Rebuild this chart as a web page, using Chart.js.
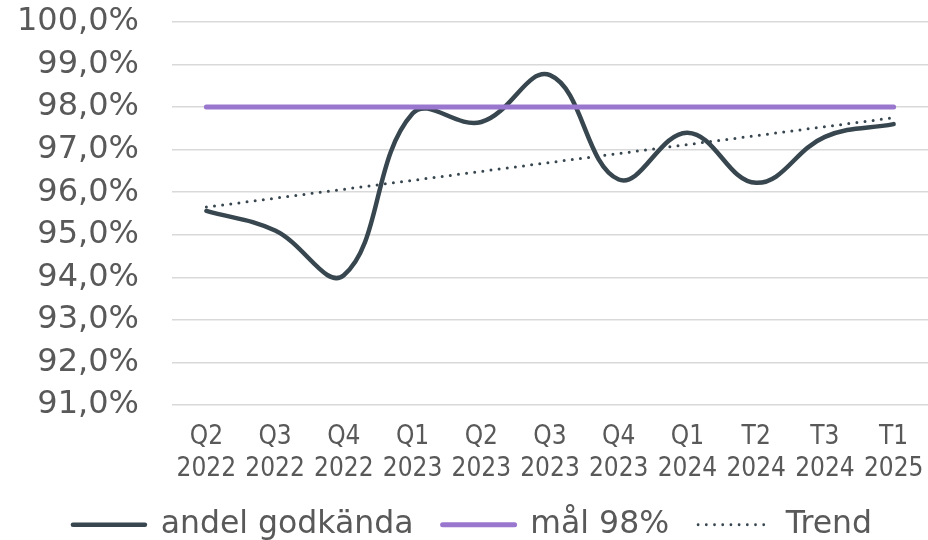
<!DOCTYPE html>
<html>
<head>
<meta charset="utf-8">
<script src="https://cdn.jsdelivr.net/npm/chart.js@4.4.1/dist/chart.umd.min.js"></script>
<style>
  html, body { margin: 0; padding: 0; background: #ffffff; }
  #wrap { width: 928px; height: 540px; position: relative; }
</style>
</head>
<body>
<div id="wrap"><canvas id="chart"></canvas></div>
<script>
// kvartal (two-line tick labels)
var quarters = ['Q2', 'Q3', 'Q4', 'Q1', 'Q2', 'Q3', 'Q4', 'Q1', 'T2', 'T3', 'T1'];
var years    = ['2022', '2022', '2022', '2023', '2023', '2023', '2023', '2024', '2024', '2024', '2025'];

// andel godkända, in percent
var andelGodkanda = [95.56, 95.1, 94.05, 97.85, 97.65, 98.75, 96.3, 97.4, 96.22, 97.3, 97.6];
// mål 98%
var malValues = [98, 98, 98, 98, 98, 98, 98, 98, 98, 98, 98];
// trend line: at its two ends
var trendValues = [95.65, null, null, null, null, null, null, null, null, null, 97.75];

var yTicks = { min: 91, max: 100, step: 1 };

var labels = quarters.map(function (q, i) { return [q, years[i]]; });

var textColor = '#595959';
var darkColor = '#37464f';
var purpleColor = '#9a77cf';

// trim the legend box so it sits closer to the axis labels
var legendFit = {
    id: 'legendFit',
    beforeInit: function (chart) {
        var orig = chart.legend.fit;
        chart.legend.fit = function () {
            orig.call(this);
            this.height = 60;
        };
    }
};

var ctx = document.getElementById('chart').getContext('2d');
var chart = new Chart(ctx, {
    type: 'line',
    data: {
        labels: labels,
        datasets: [
            {
                label: 'andel godkända',
                data: andelGodkanda,
                borderColor: darkColor,
                borderWidth: 4.5,
                borderCapStyle: 'round',
                borderJoinStyle: 'round',
                tension: 0.4,
                pointRadius: 0,
                fill: false,
                order: 3
            },
            {
                label: 'mål 98%',
                data: malValues,
                borderColor: purpleColor,
                borderWidth: 5,
                borderCapStyle: 'round',
                pointRadius: 0,
                fill: false,
                order: 2
            },
            {
                label: 'Trend',
                data: trendValues,
                borderColor: darkColor,
                borderWidth: 3,
                borderDash: [0, 8.2],
                borderCapStyle: 'round',
                spanGaps: true,
                tension: 0,
                pointRadius: 0,
                fill: false,
                order: 1
            }
        ]
    },
    plugins: [legendFit],
    options: {
        responsive: true,
        maintainAspectRatio: false,
        animation: false,
        layout: { padding: { left: 17, right: 0, top: 22, bottom: 0 } },
        plugins: {
            tooltip: { enabled: false },
            legend: {
                position: 'bottom',
                labels: {
                    color: textColor,
                    font: { family: 'DejaVu Sans', size: 31.5 },
                    usePointStyle: true,
                    pointStyleWidth: 72,
                    boxHeight: 10,
                    padding: 29,
                    generateLabels: function (c) {
                        return c.data.datasets.map(function (ds, i) {
                            return {
                                text: ds.label,
                                fillStyle: ds.borderColor,
                                strokeStyle: ds.borderColor,
                                fontColor: textColor,
                                lineWidth: i === 2 ? 2.8 : ds.borderWidth,
                                lineDash: ds.borderDash || [],
                                lineCap: 'round',
                                pointStyle: 'line',
                                hidden: false,
                                datasetIndex: i
                            };
                        });
                    }
                }
            }
        },
        scales: {
            x: {
                offset: true,
                grid: { display: false },
                border: { display: false },
                afterFit: function (axis) {
                    axis.height = 75;
                    axis.paddingLeft = 0;
                    axis.paddingRight = 0;
                },
                ticks: {
                    color: textColor,
                    font: { family: 'DejaVu Sans Condensed', size: 26 },
                    padding: 9,
                    maxRotation: 0,
                    autoSkip: false
                }
            },
            y: {
                min: yTicks.min,
                max: yTicks.max,
                grid: { color: '#d9d9d9', lineWidth: 1.5, drawTicks: false },
                border: { display: false },
                afterFit: function (axis) {
                    axis.width = 155;
                    axis.paddingTop = 0;
                    axis.paddingBottom = 0;
                },
                ticks: {
                    stepSize: yTicks.step,
                    autoSkip: false,
                    color: textColor,
                    font: { family: 'DejaVu Sans', size: 32 },
                    padding: 33,
                    callback: function (v) { return v.toFixed(1).replace('.', ',') + '%'; }
                }
            }
        }
    }
});
</script>
</body>
</html>
